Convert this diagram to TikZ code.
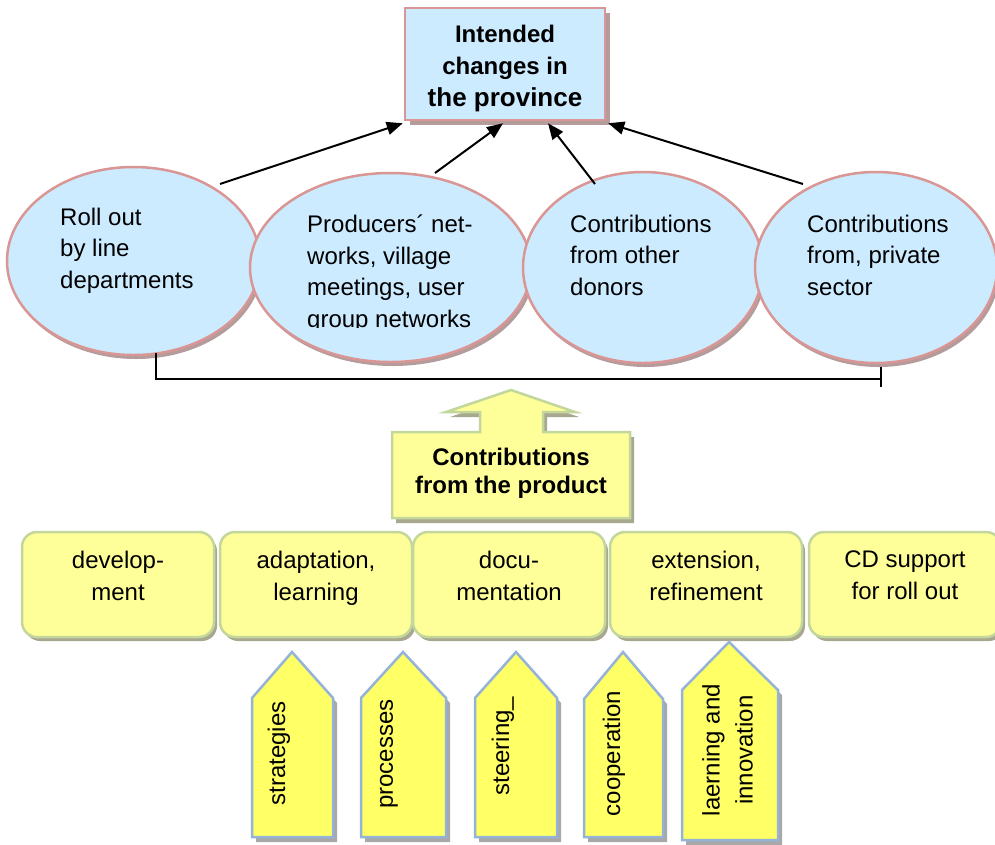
\documentclass[tikz,border=0pt]{standalone}
\usepackage{fontspec}
\setmainfont{Liberation Sans}
\usetikzlibrary{shapes.geometric,arrows.meta,calc,shadows}

\definecolor{ellfill}{HTML}{CCEBFF}
\definecolor{ellline}{HTML}{D99694}
\definecolor{pinkshadow}{HTML}{B49C9C}
\definecolor{boxfill}{HTML}{FFFF99}
\definecolor{boxline}{HTML}{C3D69B}
\definecolor{greenshadow}{HTML}{A8A890}
\definecolor{pentfill}{HTML}{FFFF66}
\definecolor{pentline}{HTML}{95B3D7}
\definecolor{greyshadow}{HTML}{A8A8A8}

\begin{document}
\begin{tikzpicture}[x=1pt,y=-1pt,
  txt/.style={inner sep=0pt, font=\fontsize{24}{31.5}\selectfont},
  ell/.style={ellipse, draw=ellline, fill=ellfill, line width=2.5pt, inner sep=0pt,
    drop shadow={opacity=1, fill=pinkshadow, shadow xshift=2.5pt, shadow yshift=-4pt}},
  topbox/.style={rectangle, draw=ellline, fill=ellfill, line width=2.5pt, inner sep=0pt,
    minimum width=200pt, minimum height=112pt,
    drop shadow={opacity=1, fill=pinkshadow, shadow xshift=5pt, shadow yshift=-5pt}},
  stagebox/.style={rectangle, rounded corners=15pt, draw=boxline, fill=boxfill, line width=2.5pt,
    inner sep=0pt, minimum width=192pt, minimum height=105pt,
    drop shadow={opacity=1, fill=greenshadow, shadow xshift=3pt, shadow yshift=-4pt}},
  upshape/.style={draw=boxline, fill=boxfill, line width=2.5pt, line join=miter,
    drop shadow={opacity=1, fill=greenshadow, shadow xshift=4pt, shadow yshift=-5pt}},
  pent/.style={draw=pentline, fill=pentfill, line width=2.5pt, line join=miter,
    drop shadow={opacity=1, fill=greyshadow, shadow xshift=4pt, shadow yshift=-5pt}},
  arr/.style={line width=2pt, -{Triangle[length=16pt,width=13pt]}},
  bracket/.style={line width=2pt}
]
\useasboundingbox (0,0) rectangle (995,844);
\clip (0,0) rectangle (995,844);

% goal box
\node[topbox] (top) at (505,64) {};
\node[txt, anchor=north, align=center, font=\bfseries\fontsize{24}{32}\selectfont]
  (toptext) at (505,24.8) {Intended\\changes in\\{\fontsize{26}{32}\selectfont the province}};

% contributing channels
\node[ell, minimum width=253pt, minimum height=188pt] (e1) at (133.5,261) {};
\node[ell, minimum width=281pt, minimum height=189pt] (e2) at (390.5,267.5) {};
\node[ell, minimum width=240pt, minimum height=191pt] (e3) at (643,267.5) {};
\node[ell, minimum width=242pt, minimum height=191pt] (e4) at (876,267.5) {};

\node[txt, anchor=north west, align=left] (e1t) at (60,207.8) {Roll out\\by line\\departments};
\begin{scope}
  \clip (250,160) rectangle (540,327);
  \node[txt, anchor=north west, align=left] (e2t) at (307,214.8)
    {Producers´ net-\\works, village\\meetings, user\\group networks};
\end{scope}
\node[txt, anchor=north west, align=left] (e3t) at (570,214.8) {Contributions\\from other\\donors};
\node[txt, anchor=north west, align=left] (e4t) at (807,214.8) {Contributions\\from, private\\sector};

% arrows into the goal box
\coordinate (s1) at (220,184);
\coordinate (s2) at (435,173);
\coordinate (s3) at (595,184);
\coordinate (s4) at (803,184);
\draw[arr] (s1) -- ([shift={(-1,2)}]top.south west);
\draw[arr] (s2) -- ([shift={(-2,2)}]top.south);
\draw[arr] (s3) -- ([shift={(43,2)}]top.south);
\draw[arr] (s4) -- ([shift={(2,2)}]top.south east);

% bracket joining the channels
\coordinate (brL) at (156,353);
\coordinate (brR) at (881,367);
\draw[bracket] (brL) |- ($(brR)+(0,12)$);
\draw[bracket] (brR) -- ++(0,20);

% product contribution with upward arrow
\path[upshape] (392,432) -- (480,432) -- (480,412) -- (446,412) -- (511,390)
  -- (575,412) -- (543,412) -- (543,432) -- (630,432) -- (630,518) -- (392,518) -- cycle;
\node[txt, anchor=north, align=center, font=\bfseries\fontsize{24}{28}\selectfont]
  (prod) at (511,447.8) {Contributions\\from the product};

% stages of the product
\node[stagebox] (b1) at (118,584.5) {};
\node[stagebox] (b2) at (316,584.5) {};
\node[stagebox] (b3) at (509,584.5) {};
\node[stagebox] (b4) at (706,584.5) {};
\node[stagebox] (b5) at (905,584.5) {};
\node[txt, anchor=north, align=center] (b1t) at (b1 |- 0,551) {develop-\\ment};
\node[txt, anchor=north, align=center] (b2t) at (b2 |- 0,551) {adaptation,\\learning};
\node[txt, anchor=north, align=center] (b3t) at (b3 |- 0,551) {docu-\\mentation};
\node[txt, anchor=north, align=center] (b4t) at (b4 |- 0,551) {extension,\\refinement};
\node[txt, anchor=north, align=center] (b5t) at (b5 |- 0,551) {CD support\\for roll out};

% supporting elements
\path[pent] (252,837) -- (252,698) -- (292,652) -- (333,698) -- (333,837) -- cycle;
\path[pent] (361,837) -- (361,698) -- (403,652) -- (446,698) -- (446,837) -- cycle;
\path[pent] (475,837) -- (475,698) -- (516,652) -- (557,698) -- (557,837) -- cycle;
\path[pent] (584,837) -- (584,699) -- (623,652) -- (663,699) -- (663,837) -- cycle;
\path[pent] (682,840) -- (682,690) -- (729,642) -- (778,690) -- (778,840) -- cycle;
\node[txt, rotate=90] (p1t) at (279,753.5) {strategies};
\node[txt, rotate=90] (p2t) at (389,754) {processes};
\node[txt, rotate=90] (p3t) at (503,746) {steering\_};
\node[txt, rotate=90] (p4t) at (614,753.5) {cooperation};
\node[txt, rotate=90, align=center, font=\fontsize{24}{33}\selectfont] (p5t) at (727.5,750)
  {laerning and\\innovation};
\end{tikzpicture}
\end{document}
